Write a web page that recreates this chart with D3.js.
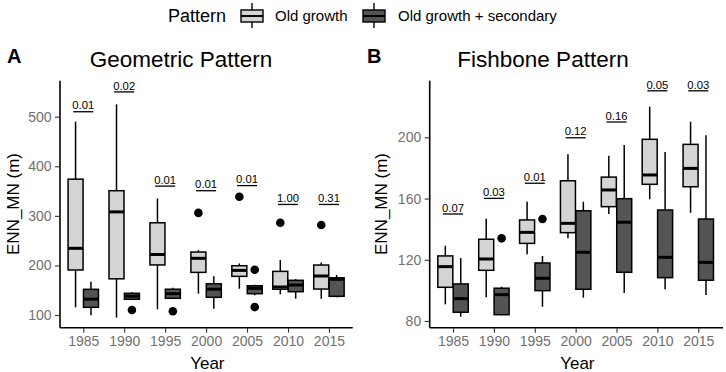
<!DOCTYPE html>
<html><head><meta charset="utf-8">
<script src="https://cdn.jsdelivr.net/npm/d3@7"></script>
<style>body{margin:0;background:#fff}svg{display:block;font-family:"Liberation Sans",Arial,sans-serif}</style>
</head><body><svg id="c" width="726" height="372"></svg>
<script>
const years = ["1985","1990","1995","2000","2005","2010","2015"];
const groups = ["Old growth","Old growth + secondary"];

// Panel A – Geometric Pattern
const aOldLo  = [115.5, 95, 111.5, 143, 153, 141.7, 133];
const aOldQ1  = [190.8, 173, 201, 186, 178, 152, 152.4];
const aOldMed = [234.5, 308, 222, 214.3, 190, 156.5, 178.7];
const aOldQ3  = [374, 350.7, 286, 227, 199.4, 188, 200.8];
const aOldHi  = [490, 525, 335, 231, 204, 211, 206];
const aOldOut = [[], [], [], [306], [338.6], [286], [281.5]];
const aSecLo  = [99.4, 131.7, 133.7, 112.7, 139.7, 132.9, 135.7];
const aSecQ1  = [115.5, 131.7, 133.7, 135.7, 143, 147, 137.7];
const aSecMed = [132, 138, 143, 152, 153.8, 160.5, 172];
const aSecQ3  = [151.8, 143.8, 152, 163, 159, 170, 175];
const aSecHi  = [167, 145.8, 155, 178, 161, 172.6, 181];
const aSecOut = [[], [110], [107.5], [], [191.4, 116], [], []];
const aP      = ["0.01","0.02","0.01","0.01","0.01","1.00","0.31"];
const aPy     = [510, 550, 360, 350.7, 361, 323, 323];
const aTicks  = [100, 200, 300, 400, 500];

// Panel B – Fishbone Pattern
const bOldLo  = [90.9, 95.5, 123.6, 134, 149.9, 159.5, 150.7];
const bOldQ1  = [102, 113.1, 130.7, 137.7, 154.7, 169.3, 167.7];
const bOldMed = [115.5, 120.5, 137.9, 143.8, 165.6, 175.4, 179.7];
const bOldQ3  = [122.5, 133.4, 146, 171.6, 174, 198.7, 195.4];
const bOldHi  = [129.2, 146.8, 157.9, 188.9, 188, 220, 210.2];
const bOldOut = [[], [], [], [], [], [], []];
const bSecLo  = [82.8, 83.7, 89.3, 95.2, 98.3, 100.7, 97];
const bSecQ1  = [85.7, 84.1, 99.8, 100.7, 111.8, 108.3, 106.6];
const bSecMed = [94.6, 97.2, 107.9, 124.9, 144.5, 121.6, 118.3];
const bSecQ3  = [104.2, 101.4, 117.9, 152, 159.9, 152.5, 146.6];
const bSecHi  = [121.1, 102.4, 122.5, 157.9, 195, 190.4, 201.3];
const bSecOut = [[], [134], [146.6], [], [], [], []];
const bP      = ["0.07","0.03","0.01","0.12","0.16","0.05","0.03"];
const bPy     = [149.9, 160.1, 170, 199.7, 210, 230.4, 230.4];
const bTicks  = [80, 120, 160, 200];

const fills = ["#d4d4d4", "#545454"];
const tickCol = "#707070";
const svg = d3.select("#c");

function stats(lo,q1,med,q3,hi,out){
  return years.map((y,i)=>({year:y,lo:lo[i],q1:q1[i],med:med[i],q3:q3[i],hi:hi[i],out:out[i]}));
}

function panel(opt){
  const g = svg.append("g");
  const x = d3.scalePoint().domain(years).range(opt.xr).padding(0.6);
  const y = d3.scaleLinear().domain(opt.yd).range([327.7, 80.7]);
  const bw = 15, off = 7.7;

  // axes lines
  g.append("line").attr("x1",opt.ax0).attr("x2",opt.ax0).attr("y1",80.7).attr("y2",327.7).attr("stroke","#000").attr("stroke-width",1.6);
  g.append("line").attr("x1",opt.ax0).attr("x2",opt.ax1).attr("y1",327.7).attr("y2",327.7).attr("stroke","#000").attr("stroke-width",1.6);

  const ya = g.append("g").attr("transform",`translate(${opt.ax0},0)`).call(d3.axisLeft(y).tickValues(opt.ticks).tickSize(5).tickPadding(3.5));
  ya.select(".domain").remove();
  ya.selectAll("line").attr("stroke","#333").attr("stroke-width",1.1);
  ya.selectAll("text").attr("fill",tickCol).style("font-size","14px");

  const xa = g.append("g").attr("transform","translate(0,327.7)").call(d3.axisBottom(x).tickSize(5).tickPadding(3));
  xa.select(".domain").remove();
  xa.selectAll("line").attr("stroke","#333").attr("stroke-width",1.1);
  xa.selectAll("text").attr("fill",tickCol).style("font-size","14px");

  // boxes
  opt.data.forEach((ser,gi)=>{
    const dx = gi===0 ? -off : off;
    const bg = g.append("g");
    ser.forEach(d=>{
      const cx = x(d.year)+dx;
      bg.append("line").attr("x1",cx).attr("x2",cx).attr("y1",y(d.hi)).attr("y2",y(d.q3)).attr("stroke","#000").attr("stroke-width",1.5);
      bg.append("line").attr("x1",cx).attr("x2",cx).attr("y1",y(d.q1)).attr("y2",y(d.lo)).attr("stroke","#000").attr("stroke-width",1.5);
      bg.append("rect").attr("x",cx-bw/2).attr("y",y(d.q3)).attr("width",bw).attr("height",Math.max(0.5,y(d.q1)-y(d.q3)))
        .attr("fill",fills[gi]).attr("stroke","#000").attr("stroke-width",1.5);
      bg.append("line").attr("x1",cx-bw/2).attr("x2",cx+bw/2).attr("y1",y(d.med)).attr("y2",y(d.med)).attr("stroke","#000").attr("stroke-width",3);
      d.out.forEach(o=>{
        bg.append("circle").attr("cx",cx).attr("cy",y(o)).attr("r",4.3).attr("fill","#000");
      });
    });
  });

  // p-values
  years.forEach((yr,i)=>{
    const cx = x(yr), ly = y(opt.py[i]);
    g.append("line").attr("x1",cx-10).attr("x2",cx+10).attr("y1",ly).attr("y2",ly).attr("stroke","#000").attr("stroke-width",1.3);
    g.append("text").attr("x",cx).attr("y",ly-2.3).attr("text-anchor","middle").style("font-size","11.3px").attr("fill","#000").text(opt.p[i]);
  });

  // titles
  svg.append("text").attr("x",opt.tx).attr("y",66.5).attr("text-anchor","middle").style("font-size","22.5px").text(opt.title);
  svg.append("text").attr("x",opt.lx).attr("y",63).style("font-size","20px").style("font-weight","bold").text(opt.letter);
  svg.append("text").attr("x",(opt.ax0+opt.ax1)/2+1).attr("y",369).attr("text-anchor","middle").style("font-size","17px").text("Year");
  svg.append("text").attr("transform",`translate(${opt.ytx},204) rotate(-90)`).attr("text-anchor","middle").style("font-size","17px").text("ENN_MN (m)");
}

panel({
  xr:[58.7,353.5], ax0:60, ax1:352.7, yd:[74.4,572.6], ticks:aTicks,
  data:[stats(aOldLo,aOldQ1,aOldMed,aOldQ3,aOldHi,aOldOut), stats(aSecLo,aSecQ1,aSecMed,aSecQ3,aSecHi,aSecOut)],
  p:aP, py:aPy, title:"Geometric Pattern", tx:181, letter:"A", lx:7, ytx:19
});
panel({
  xr:[428.5,722.8], ax0:429.7, ax1:723, yd:[75.6,237], ticks:bTicks,
  data:[stats(bOldLo,bOldQ1,bOldMed,bOldQ3,bOldHi,bOldOut), stats(bSecLo,bSecQ1,bSecMed,bSecQ3,bSecHi,bSecOut)],
  p:bP, py:bPy, title:"Fishbone Pattern", tx:543, letter:"B", lx:367, ytx:387
});

// legend
const lg = svg.append("g");
lg.append("text").attr("x",168).attr("y",21.5).style("font-size","18px").text("Pattern");
const keys = [{x:241, tx:275},{x:363, tx:398}];
groups.forEach((name,i)=>{
  const k = keys[i], cx = k.x+11;
  lg.append("line").attr("x1",cx).attr("x2",cx).attr("y1",3).attr("y2",28).attr("stroke","#000").attr("stroke-width",1.4);
  lg.append("rect").attr("x",k.x).attr("y",10).attr("width",22).attr("height",12).attr("fill",fills[i]).attr("stroke","#000").attr("stroke-width",1.4);
  lg.append("line").attr("x1",k.x).attr("x2",k.x+22).attr("y1",16).attr("y2",16).attr("stroke","#000").attr("stroke-width",2);
  lg.append("text").attr("x",k.tx).attr("y",20.5).style("font-size","15px").text(name);
});
</script></body></html>
